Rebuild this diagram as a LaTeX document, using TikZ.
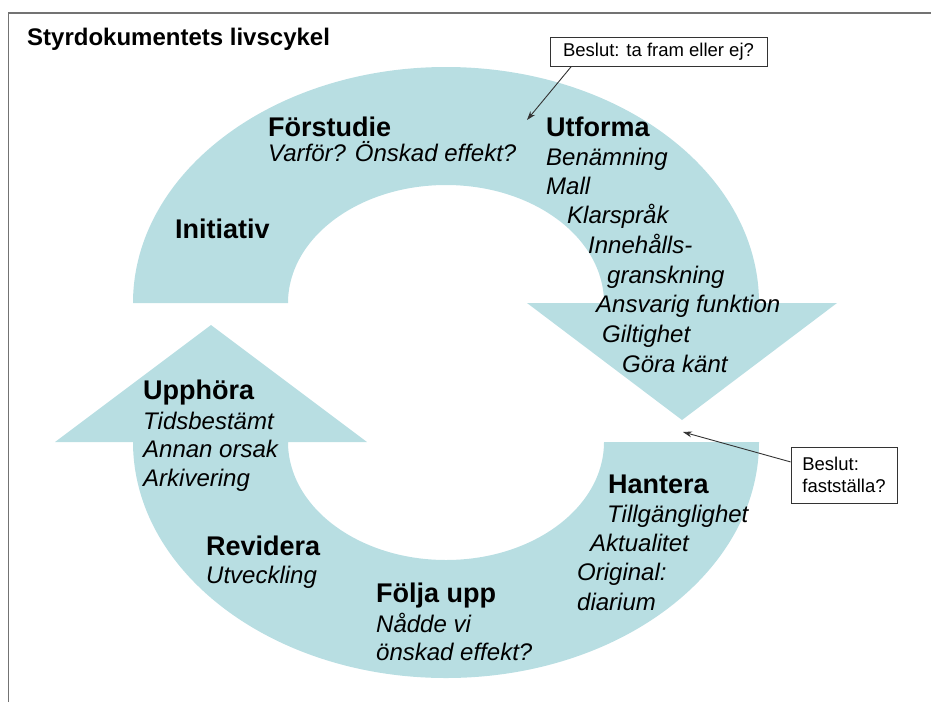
\documentclass[tikz,border=0pt]{standalone}
\usepackage{fontspec}
\setmainfont{Liberation Sans}
\usetikzlibrary{arrows.meta,calc}
\definecolor{ringblue}{RGB}{184,222,226}
\definecolor{framegray}{RGB}{115,115,115}
\tikzset{
  band/.style={fill=ringblue, draw=none},
  head/.style={anchor=base west, inner sep=0pt, font=\fontsize{27}{30}\selectfont\bfseries},
  sub/.style={anchor=base west, inner sep=0pt, font=\fontsize{24}{28}\selectfont\itshape},
  titletext/.style={anchor=base west, inner sep=0pt, font=\fontsize{24}{28}\selectfont\bfseries},
  decbox/.style={draw=black!80, line width=0.9pt, fill=white, inner sep=0pt,
    font=\fontsize{18.5}{22.3}\selectfont, align=left},
  callout/.style={draw=black!80, line width=0.9pt, -{Stealth[length=9pt,width=6pt]}},
}
\begin{document}
\begin{tikzpicture}[x=1pt,y=-1pt]
\useasboundingbox (0,0) rectangle (931,702);
% frame
\draw[framegray, line width=1.8pt] (8.5,702) -- (8.5,13) -- (931,13);
% upper ring with down arrow
\fill[band] (133,303) arc[start angle=180,end angle=360,x radius=313,y radius=236]
  -- (837,303) -- (682,420) -- (527,303) -- (604,303)
  arc[start angle=0,end angle=-180,x radius=158,y radius=118] -- cycle;
% lower ring with up arrow
\fill[band] (759,442) arc[start angle=0,end angle=180,x radius=313,y radius=236]
  -- (55,442) -- (211,325) -- (367,442) -- (288,442)
  arc[start angle=180,end angle=0,x radius=158,y radius=118] -- cycle;
% title
\node[titletext] (title) at (27,45) {Styrdokumentets livscykel};
% Förstudie
\node[head] (fh) at (268,136) {Förstudie};
\node[sub] (f1) at (268,161) {Varför? Önskad effekt?};
% Initiativ
\node[head] (ih) at (175,238) {Initiativ};
% Utforma
\node[head] (uh) at (546,136) {Utforma};
\node[sub] (u1) at (546,165) {Benämning};
\node[sub] (u2) at (546,194) {Mall};
\node[sub] (u3) at (567,223.5) {Klarspråk};
\node[sub] (u4) at (588,253) {Innehålls-};
\node[sub] (u5) at (607,283) {granskning};
\node[sub] (u6) at (596,312.5) {Ansvarig funktion};
\node[sub] (u7) at (602,342.5) {Giltighet};
\node[sub] (u8) at (622,372) {Göra känt};
% Hantera
\node[head] (hh) at (608,493) {Hantera};
\node[sub] (h1) at (607,522) {Tillgänglighet};
\node[sub] (h2) at (590,551.5) {Aktualitet};
\node[sub] (h3) at (577,580.5) {Original:};
\node[sub] (h4) at (577,610) {diarium};
% Följa upp
\node[head] (fu) at (376,602.5) {Följa upp};
\node[sub] (fu1) at (376,632) {Nådde vi};
\node[sub] (fu2) at (376,660.5) {önskad effekt?};
% Revidera
\node[head] (rh) at (206,555) {Revidera};
\node[sub] (r1) at (206,583.5) {Utveckling};
% Upphöra
\node[head] (ph) at (143,399.5) {Upphöra};
\node[sub] (p1) at (143,429) {Tidsbestämt};
\node[sub] (p2) at (143,457.5) {Annan orsak};
\node[sub] (p3) at (143,486) {Arkivering};
% decision boxes
\node[decbox, minimum width=217pt, minimum height=29pt] (b1) at (658.5,51.5) {Beslut: ta fram eller ej?};
\node[decbox, minimum width=106pt, minimum height=56pt] (b2) at (844,475) {Beslut:\\fastställa?};
\coordinate (t1) at (527,120);
\coordinate (t2) at (683,432);
\draw[callout] ($(b1.south west)!0.1!(b1.south east)$) -- (t1);
\draw[callout] ($(b2.north west)!0.27!(b2.south west)$) -- (t2);
\end{tikzpicture}
\end{document}
